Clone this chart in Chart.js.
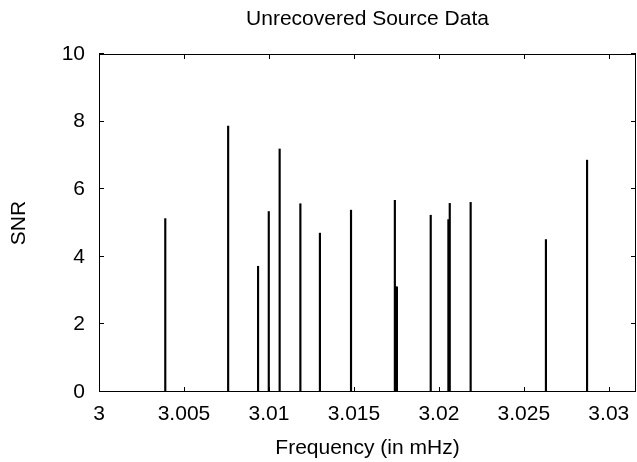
<!DOCTYPE html>
<html>
<head>
<meta charset="utf-8">
<script src="https://cdn.jsdelivr.net/npm/chart.js@4"></script>
<style>
  html, body { margin: 0; padding: 0; background: #fff; }
  #wrap { width: 637px; height: 462px; }
</style>
</head>
<body>
<div id="wrap"><canvas id="snrChart" width="637" height="462"></canvas></div>
<script>
// impulse positions (mHz) and their SNR
const frequencies = [3.0039, 3.0076, 3.00936, 3.00999, 3.01063, 3.01185, 3.0130, 3.01483,
                     3.01741, 3.01748, 3.01753, 3.01952, 3.02056, 3.02064, 3.02187, 3.0263, 3.02872];
const snrValues   = [5.13, 7.87, 3.72, 5.34, 7.19, 5.57, 4.70, 5.38,
                     5.67, 3.11, 3.11, 5.23, 5.10, 5.58, 5.61, 4.51, 6.86];
const xRange = [3, 3.0316];
const yRange = [0, 10];
const titleText = 'Unrecovered Source Data';
const xLabel = 'Frequency (in mHz)';
const yLabel = 'SNR';

const FONT = 'Liberation Sans, Arial, sans-serif';

// gnuplot style: frame + ticks pointing inwards on all four sides
const frameTicks = {
    id: 'frameTicks',
    afterDatasetsDraw(chart) {
        const { ctx, chartArea: a, scales } = chart;
        const len = 5;
        ctx.save();
        ctx.strokeStyle = '#000';
        ctx.lineWidth = 1;
        ctx.beginPath();
        scales.x.ticks.forEach(t => {
            const px = Math.round(scales.x.getPixelForValue(t.value)) + 0.5;
            ctx.moveTo(px, a.bottom); ctx.lineTo(px, a.bottom - len);
            ctx.moveTo(px, a.top); ctx.lineTo(px, a.top + len);
        });
        scales.y.ticks.forEach(t => {
            const py = Math.round(scales.y.getPixelForValue(t.value)) - 0.5;
            ctx.moveTo(a.left, py); ctx.lineTo(a.left + len, py);
            ctx.moveTo(a.right, py); ctx.lineTo(a.right - len, py);
        });
        ctx.stroke();
        ctx.strokeRect(a.left + 0.5, a.top + 0.5, a.right - a.left - 1, a.bottom - a.top - 1);
        ctx.restore();
    }
};

const fmt = v => String(Number(v.toFixed(4)));

new Chart(document.getElementById('snrChart'), {
    type: 'bar',
    data: {
        datasets: [{
            data: frequencies.map((f, i) => ({ x: f, y: snrValues[i] })),
            backgroundColor: '#000',
            borderWidth: 0,
            barThickness: 1.5,
        }],
    },
    options: {
        responsive: false,
        animation: false,
        layout: { padding: { left: 0, right: 1, top: 0, bottom: 0 } },
        plugins: {
            legend: { display: false },
            tooltip: { enabled: false },
        },
        scales: {
            x: {
                type: 'linear',
                offset: false,
                min: xRange[0],
                max: xRange[1],
                afterFit: s => { s.height = 70; },
                border: { display: false },
                grid: { display: true, offset: false, drawOnChartArea: false, drawTicks: true, tickLength: 10, tickColor: 'rgba(0,0,0,0)' },
                ticks: {
                    stepSize: 0.005,
                    includeBounds: false,
                    autoSkip: false,
                    maxRotation: 0,
                    padding: 0,
                    color: '#000',
                    font: { family: FONT, size: 21 },
                    callback: v => fmt(v),
                },
                title: {
                    display: true,
                    text: xLabel,
                    color: '#000',
                    font: { family: FONT, size: 21, lineHeight: 1 },
                    padding: { top: 0, bottom: 3.5 },
                },
            },
            x2: {
                type: 'linear',
                position: 'top',
                offset: false,
                min: xRange[0],
                max: xRange[1],
                afterFit: s => { s.height = 54; },
                border: { display: false },
                grid: { display: false },
                ticks: { display: false },
                title: {
                    display: true,
                    text: titleText,
                    color: '#000',
                    font: { family: FONT, size: 21, lineHeight: 1 },
                    padding: { top: 8.5, bottom: 0 },
                },
            },
            y: {
                min: yRange[0],
                max: yRange[1],
                afterFit: s => { s.width = 99; },
                border: { display: false },
                grid: { display: true, drawOnChartArea: false, drawTicks: true, tickLength: 14, tickColor: 'rgba(0,0,0,0)' },
                ticks: {
                    stepSize: 2,
                    padding: 0,
                    color: '#000',
                    font: { family: FONT, size: 21 },
                },
                title: {
                    display: true,
                    text: yLabel,
                    color: '#000',
                    font: { family: FONT, size: 21, lineHeight: 1 },
                    padding: { top: 8.5, bottom: 0 },
                },
            },
        },
    },
    plugins: [frameTicks],
});
</script>
</body>
</html>
